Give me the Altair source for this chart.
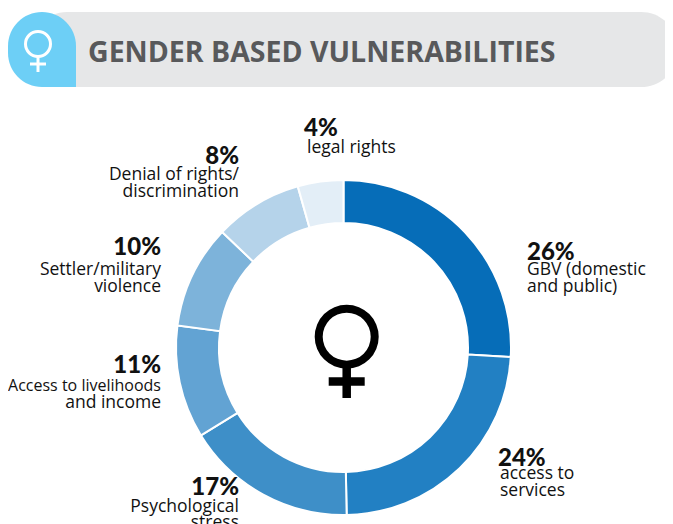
import altair as alt
import pandas as pd

TITLE = "GENDER BASED VULNERABILITIES"
categories = ["GBV (domestic and public)", "access to services", "Psychological stress",
              "Access to livelihoods and income", "Settler/military violence",
              "Denial of rights/ discrimination", "legal rights"]
# slice sizes as drawn in the picture (the printed labels are rounded differently)
shares = [25.9, 23.8, 16.5, 10.9, 10.0, 8.5, 4.4]
colors = ["#066db8", "#2280c3", "#3e8fc8", "#62a3d3", "#7db3da", "#b5d3ea", "#e3eef7"]

FONT = "Open Sans"
W, H = 657, 516
OX, OY = 8, 8  # page margin: reference pixel -> plot pixel


def px(v):
    return alt.value(v - OX)


def py(v):
    return alt.value(v - OY)


# header
header_bg = alt.Chart(pd.DataFrame({"a": [0]})).mark_rect(color="#e6e7e8", cornerRadius=37).encode(
    x=px(30), x2=px(678), y=py(12), y2=py(87))
header_tab = alt.Chart(pd.DataFrame({"a": [0]})).mark_rect(
    color="#6dcff6", cornerRadiusTopLeft=34, cornerRadiusTopRight=34, cornerRadiusBottomLeft=34,
    cornerRadiusBottomRight=0).encode(x=px(8), x2=px(76), y=py(12), y2=py(87))
header_title = alt.Chart(pd.DataFrame({"t": [TITLE]})).mark_text(
    font=FONT, fontWeight="bold", fontSize=28.5, color="#58595b", align="left", baseline="alphabetic"
).encode(x=px(88), y=py(62), text="t:N")


def venus(cx, cy, r_out, r_in, stem_w, stem_end, bar_half, bar_y, color):
    d = pd.DataFrame({"a": [0]})
    ring = alt.Chart(d).mark_arc(innerRadius=r_in, outerRadius=r_out, theta=0, theta2=6.2832, color=color).encode(
        x=px(cx), y=py(cy))
    stem = alt.Chart(d).mark_rule(color=color, strokeWidth=stem_w).encode(
        x=px(cx), y=py(cy + r_out - 1), y2=py(stem_end))
    bar = alt.Chart(d).mark_rule(color=color, strokeWidth=stem_w).encode(
        x=px(cx - bar_half), x2=px(cx + bar_half), y=py(bar_y))
    return [ring, stem, bar]


# donut
df = pd.DataFrame({"cat": categories, "share": shares, "idx": range(len(shares))})
donut = alt.Chart(df).mark_arc(innerRadius=124.5, outerRadius=167.5, stroke="white", strokeWidth=2).encode(
    theta=alt.Theta("share:Q", stack=True),
    order=alt.Order("idx:Q"),
    color=alt.Color("cat:N", scale=alt.Scale(domain=categories, range=colors), legend=None),
    x=px(343.5), y=py(347.5))

BODY = 17.5
# labels: (text, x, baseline, align, bold, size)
labels = [
    ("4%", 304, 136, "left", True, 24), ("legal rights", 307, 153, "left", False, BODY),
    ("8%", 239, 164, "right", True, 24), ("Denial of rights/", 239, 180, "right", False, BODY),
    ("discrimination", 239, 197, "right", False, BODY),
    ("10%", 161, 255, "right", True, 24), ("Settler/military", 161, 275, "right", False, BODY),
    ("violence", 161, 292, "right", False, BODY),
    ("11%", 161, 373, "right", True, 24), ("Access to livelihoods", 161, 391, "right", False, 16),
    ("and  income", 161, 408, "right", False, BODY),
    ("17%", 239, 495, "right", True, 24), ("Psychological", 239, 512, "right", False, BODY),
    ("stress", 239, 528, "right", False, BODY),
    ("26%", 527, 260, "left", True, 24), ("GBV (domestic", 527, 275, "left", False, BODY),
    ("and public)", 527, 292, "left", False, BODY),
    ("24%", 498, 466, "left", True, 24), ("access to", 500, 479, "left", False, BODY),
    ("services", 500, 496, "left", False, BODY),
]
texts = []
for t, x, y, al, b, s in labels:
    texts.append(alt.Chart(pd.DataFrame({"t": [t]})).mark_text(
        font="Lato" if b else FONT, fontSize=s, fontWeight=900 if b else 400,
        color="#111111", align=al, baseline="alphabetic").encode(x=px(x), y=py(y), text="t:N"))

layers = [header_bg, header_tab, header_title] \
    + venus(38, 44, 14, 11, 3, 72, 8, 64, "white") \
    + [donut] \
    + venus(346.7, 336.7, 32, 24, 8.5, 398, 18, 381.5, "black") \
    + texts

chart = alt.layer(*layers).properties(
    width=W, height=H, padding=0, autosize=alt.AutoSizeParams(type="none")
).configure_view(stroke=None)

chart.save("out.html", embed_options={"renderer": "svg", "actions": False})
